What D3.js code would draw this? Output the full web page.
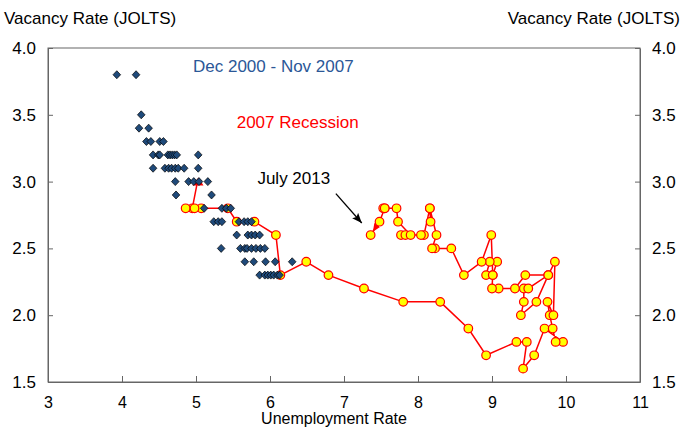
<!DOCTYPE html>
<html><head><meta charset="utf-8">
<script src="https://cdn.jsdelivr.net/npm/d3@7"></script>
<style>body{margin:0;background:#fff}svg{display:block}text{font-family:"Liberation Sans",Arial,sans-serif}</style>
</head><body>
<svg id="c" width="684" height="429"></svg>
<script>
// ---- data ----
const xTicks = [3,4,5,6,7,8,9,10,11];
const yTicks = [1.5,2.0,2.5,3.0,3.5,4.0];
const yTickLabels = ["1.5","2.0","2.5","3.0","3.5","4.0"];
// Dec 2000 - Nov 2007 [unemployment, vacancy]
const preUR = [3.93,4.19,4.26,4.23,4.36,4.33,4.39,4.51,4.56,4.42,4.49,4.51,4.62,4.65,4.68,4.71,4.74,5.03,
  4.42,4.58,4.63,4.67,4.72,4.76,4.84,5.03,4.72,4.90,4.97,5.04,5.16,4.73,5.21,5.11,5.35,5.41,5.47,
  5.24,5.30,5.35,5.58,5.65,5.70,5.75,5.55,5.70,5.75,5.80,5.86,5.34,5.60,5.66,5.69,5.75,5.81,5.87,5.93,
  5.66,5.78,5.94,6.07,6.30,5.86,5.93,5.97,6.01,6.05,6.10,6.13];
const preVR = [3.8,3.8,3.5,3.4,3.4,3.3,3.3,3.3,3.3,3.2,3.2,3.2,3.2,3.2,3.2,3.2,3.2,3.2,
  3.1,3.1,3.1,3.1,3.1,3.1,3.1,3.1,3.0,3.0,3.0,3.0,3.0,2.9,2.9,2.8,2.8,2.8,2.8,
  2.7,2.7,2.7,2.7,2.7,2.7,2.7,2.6,2.6,2.6,2.6,2.6,2.5,2.5,2.5,2.5,2.5,2.5,2.5,2.5,
  2.4,2.4,2.4,2.4,2.4,2.3,2.3,2.3,2.3,2.3,2.3,2.3];
// Dec 2007 - July 2013
const recUR = [5.02,4.95,4.86,5.07,4.98,5.43,5.55,5.79,6.08,6.14,6.49,6.79,7.27,7.80,8.30,8.68,8.92,
  9.33,9.47,9.42,9.57,9.71,9.96,9.86,9.82,9.78,9.75,9.83,9.85,9.76,9.60,9.39,9.43,9.43,9.49,9.76,9.45,
  9.31,9.09,9.00,9.01,9.07,8.97,8.92,9.01,8.99,8.86,8.62,8.45,
  8.23,8.19,8.25,8.16,8.17,8.16,8.08,8.04,7.77,7.83,7.90,7.73,7.71,7.55,7.53,7.55,7.48,7.36];
const recVR = [3.0,2.8,2.8,2.8,2.8,2.8,2.7,2.7,2.6,2.3,2.4,2.3,2.2,2.1,2.1,1.9,1.7,
  1.8,1.8,1.6,1.7,1.9,1.8,1.8,1.9,2.0,2.1,2.0,2.4,2.3,2.1,2.0,2.1,2.2,2.2,2.3,2.3,
  2.2,2.2,2.2,2.3,2.4,2.4,2.3,2.3,2.6,2.4,2.3,2.5,
  2.5,2.5,2.6,2.8,2.7,2.8,2.6,2.6,2.6,2.6,2.6,2.7,2.8,2.8,2.8,2.8,2.7,2.6];
const labels = {left:"Vacancy Rate (JOLTS)", right:"Vacancy Rate (JOLTS)", x:"Unemployment Rate",
  pre:"Dec 2000 - Nov 2007", rec:"2007 Recession", last:"July 2013"};
const annoArrow = [[6.89,2.91],[7.24,2.69]];

// ---- chart ----
const svg = d3.select("#c");
const L=48,R=640,T=48,B=382;
const x = d3.scaleLinear().domain([3,11]).range([L,R]);
const y = d3.scaleLinear().domain([1.5,4]).range([B,T]);
const axisCol="#666";

const defs = svg.append("defs");
defs.append("marker").attr("id","redEnd").attr("markerUnits","userSpaceOnUse")
  .attr("markerWidth",14).attr("markerHeight",10).attr("refX",12).attr("refY",3.5)
  .attr("orient","auto").append("path").attr("d","M0,0L8,3.5L0,7Z").attr("fill","#f00");
defs.append("marker").attr("id","blkEnd").attr("markerUnits","userSpaceOnUse")
  .attr("markerWidth",12).attr("markerHeight",10).attr("refX",10).attr("refY",4)
  .attr("orient","auto").append("path").attr("d","M0,0L10,4L0,8L2,4Z").attr("fill","#000");

// frame
svg.append("rect").attr("x",L).attr("y",T).attr("width",R-L).attr("height",B-T)
  .attr("fill","none").attr("stroke",axisCol).attr("stroke-width",1);

const gx = svg.append("g").attr("transform",`translate(0,${B})`)
  .call(d3.axisBottom(x).tickValues(xTicks).tickFormat(d3.format("d")).tickSizeInner(-6).tickSizeOuter(0).tickPadding(15));
const gl = svg.append("g").attr("transform",`translate(${L},0)`)
  .call(d3.axisLeft(y).tickValues(yTicks).tickFormat((d,i)=>yTickLabels[i]).tickSizeInner(-5).tickSizeOuter(0).tickPadding(12));
const gr = svg.append("g").attr("transform",`translate(${R},0)`)
  .call(d3.axisRight(y).tickValues(yTicks).tickFormat((d,i)=>yTickLabels[i]).tickSizeInner(-5).tickSizeOuter(0).tickPadding(12));
[gx,gl,gr].forEach(g=>{
  g.select(".domain").attr("stroke",axisCol);
  g.selectAll(".tick line").attr("stroke",axisCol);
  g.selectAll("text").attr("font-size",17).attr("fill","#000").style("font-family","'Liberation Sans',Arial,sans-serif");
});
gx.selectAll("text").attr("font-size",16);

// titles
svg.append("text").attr("x",4).attr("y",24).attr("font-size",17).text(labels.left);
svg.append("text").attr("x",680).attr("y",24).attr("font-size",17).attr("text-anchor","end").text(labels.right);
svg.append("text").attr("x",334).attr("y",424).attr("font-size",16).attr("text-anchor","middle").text(labels.x);
svg.append("text").attr("x",x(4.0)+71).attr("y",72).attr("font-size",17).attr("fill","#2B5797").text(labels.pre);
svg.append("text").attr("x",x(5.55)).attr("y",128).attr("font-size",17).attr("fill","#f00").text(labels.rec);
svg.append("text").attr("x",x(5.83)).attr("y",184).attr("font-size",17).attr("fill","#000").text(labels.last);

// annotation arrow
svg.append("line").attr("x1",x(annoArrow[0][0])).attr("y1",y(annoArrow[0][1]))
  .attr("x2",x(annoArrow[1][0])).attr("y2",y(annoArrow[1][1]))
  .attr("stroke","#000").attr("stroke-width",1.3).attr("marker-end","url(#blkEnd)");

// recession series
const rec = recUR.map((u,i)=>[u,recVR[i]]);
svg.append("path").datum(rec)
  .attr("d",d3.line().x(d=>x(d[0])).y(d=>y(d[1])))
  .attr("fill","none").attr("stroke","#f00").attr("stroke-width",1.5).attr("marker-end","url(#redEnd)");
svg.append("g").selectAll("circle").data(rec.slice(1)).join("circle")
  .attr("cx",d=>x(d[0])).attr("cy",d=>y(d[1])).attr("r",4.3)
  .attr("fill","#ff0").attr("stroke","#f00").attr("stroke-width",1.2);
// start marker
svg.append("path").attr("d",`M${x(rec[0][0])-5},${y(rec[0][1])+4}L${x(rec[0][0])+1},${y(rec[0][1])-4}L${x(rec[0][0])+6},${y(rec[0][1])+4}Z`)
  .attr("fill","#f00");

// pre-recession diamonds
const pre = preUR.map((u,i)=>[u,preVR[i]]);
svg.append("g").selectAll("path").data(pre).join("path")
  .attr("transform",d=>`translate(${x(d[0])},${y(d[1])})`)
  .attr("d","M0,-4L3.8,0L0,4L-3.8,0Z")
  .attr("fill","#1F4A7A").attr("stroke","#000").attr("stroke-width",0.7);
</script>
</body></html>
